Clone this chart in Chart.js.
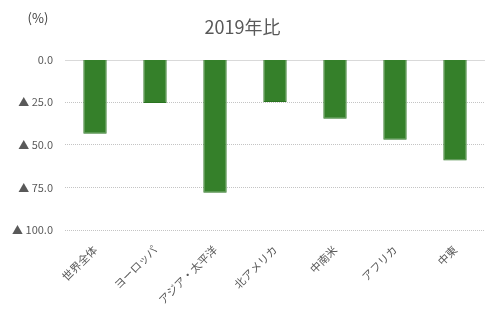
<!DOCTYPE html>
<html><head><meta charset="utf-8">
<script src="https://cdn.jsdelivr.net/npm/chart.js@4/dist/chart.umd.min.js"></script>
<style>html,body{margin:0;padding:0;background:#fff}#wrap{width:500px;height:324px}</style>
</head><body><div id="wrap"><canvas id="c" width="500" height="324"></canvas></div>
<script>
const categories = ['世界全体','ヨーロッパ','アジア・太平洋','北アメリカ','中南米','アフリカ','中東'];
const values = [-43.5, -25.5, -78.2, -24.9, -34.7, -47.1, -59.2];
const yTicks = [0, -25, -50, -75, -100];
const titleText = '2019年比';
const unitText = '(%)';

const FONT = "'Noto Sans CJK JP', 'Noto Sans', sans-serif";

const extras = {
  id: 'extras',
  beforeDatasetsDraw(chart) {
    const {ctx, chartArea, scales} = chart;
    const y0 = Math.round(scales.y.getPixelForValue(0)) + 0.5;
    ctx.save();
    ctx.strokeStyle = '#d9d9d9';
    ctx.lineWidth = 1;
    ctx.beginPath();
    ctx.moveTo(chartArea.left, y0);
    ctx.lineTo(chartArea.right, y0);
    ctx.stroke();
    ctx.restore();
  },
  afterDraw(chart) {
    const ctx = chart.ctx;
    ctx.save();
    ctx.fillStyle = '#404040';
    ctx.font = '13px ' + FONT;
    ctx.textAlign = 'center';
    ctx.textBaseline = 'middle';
    ctx.fillText(unitText, 38, 18);
    ctx.restore();
  }
};

new Chart(document.getElementById('c'), {
  type: 'bar',
  data: {
    labels: categories,
    datasets: [{
      data: values,
      backgroundColor: '#35802a',
      borderColor: '#2a7320',
      borderWidth: 1,
      categoryPercentage: 1,
      barPercentage: 0.39
    }]
  },
  options: {
    responsive: false,
    animation: false,
    layout: {padding: {left: 0, right: 15, top: 0, bottom: 0}},
    plugins: {
      legend: {display: false},
      tooltip: {enabled: false},
      title: {
        display: true,
        text: titleText,
        color: '#595959',
        font: {family: FONT, size: 18, weight: 'normal'},
        padding: {top: 16, bottom: 22}
      }
    },
    scales: {
      x: {
        grid: {display: false},
        border: {display: false},
        ticks: {
          color: '#595959',
          font: {family: FONT, size: 11},
          minRotation: 45, maxRotation: 45,
          padding: 5
        },
        afterFit(s) { s.height = 94; }
      },
      y: {
        min: -100, max: 0,
        afterBuildTicks(s) { s.ticks = yTicks.map(v => ({value: v})); },
        grid: {
          color: (c) => c.tick && c.tick.value === 0 ? 'rgba(0,0,0,0)' : '#c4c4c4',
          lineWidth: 1,
          drawTicks: false
        },
        border: {display: false, dash: [1, 1]},
        ticks: {
          color: '#595959',
          font: {family: FONT, size: 11},
          padding: 12,
          callback: (v) => v === 0 ? '0.0' : '▲ ' + Math.abs(v).toFixed(1)
        },
        afterFit(s) { s.width = 65; }
      }
    }
  },
  plugins: [extras]
});
</script></body></html>
